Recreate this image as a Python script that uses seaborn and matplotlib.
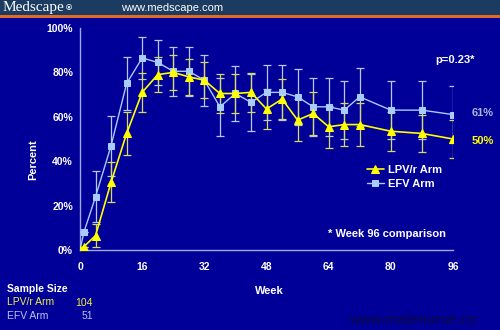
import numpy as np
import pandas as pd
import matplotlib
matplotlib.use("Agg")
import matplotlib.pyplot as plt
import seaborn as sns

weeks = [0, 1, 4, 8, 12, 16, 20, 24, 28, 32, 36, 40, 44, 48, 52, 56, 60, 64, 68, 72, 80, 88, 96]
efv_pct = [0, 8, 24, 47, 75, 86.5, 84.5, 80.5, 80.5, 76.5, 64.5, 70.5, 66.5, 71, 71, 69, 64.5, 64.5, 63, 69, 63, 63, 61]
efv_err = [0, 0, 11.5, 13.5, 12, 9.5, 10, 11, 11, 11.5, 13, 12.5, 13, 12.5, 12.5, 12.5, 13, 13, 13, 13, 13, 13, 13]
lpv_pct = [0, 1.5, 6.5, 30.5, 52.5, 71, 79, 80, 78, 76.5, 70.5, 70.5, 71, 63.5, 68, 58.5, 61.5, 55.5, 56.5, 56.5, 53.5, 52.5, 50]
lpv_err = [0, 0, 5, 9, 9.5, 8.7, 7.8, 7.9, 8, 8.2, 9, 9, 8.7, 9, 9, 9.4, 9.7, 9.5, 9.7, 9.7, 8.7, 8.4, 8.7]
x_ticks = [0, 16, 32, 48, 64, 80, 96]
y_ticks = [0, 20, 40, 60, 80, 100]
series_names = ["LPV/r Arm", "EFV Arm"]
sample_sizes = [104, 51]
final_labels = ["61%", "50%"]

BG = "#000099"
AXC = "#a0a8ee"
YEL = "#ffff00"
LBL = "#a8ccff"

sns.set_style("white")
plt.rcParams["font.family"] = ["Liberation Sans", "DejaVu Sans"]

fig = plt.figure(figsize=(5, 3.3), dpi=100, facecolor=BG)
ax = fig.add_axes([80/500, 1-250/330, 373/500, 222/330])
ax.set_facecolor(BG)

df = pd.DataFrame({"week": weeks * 2,
                   "pct": lpv_pct + efv_pct,
                   "err": lpv_err + efv_err,
                   "arm": [series_names[0]] * len(weeks) + [series_names[1]] * len(weeks)})

# error bars
ax.errorbar(weeks, efv_pct, yerr=efv_err, fmt="none", ecolor="#b4c8f0", elinewidth=0.9,
            capsize=3, capthick=0.9, zorder=2)
ax.errorbar(weeks, lpv_pct, yerr=lpv_err, fmt="none", ecolor="#d8d868", elinewidth=0.9,
            capsize=3, capthick=0.9, zorder=2)

d_l = df[df.arm == series_names[0]]
d_e = df[df.arm == series_names[1]]
sns.lineplot(data=d_e, x="week", y="pct", ax=ax, color=LBL, marker="s", markersize=5,
             markeredgecolor=LBL, linewidth=1.0, label=series_names[1], zorder=3)
sns.lineplot(data=d_l, x="week", y="pct", ax=ax, color=YEL, marker="^", markersize=5.5,
             markeredgecolor=YEL, linewidth=1.2, label=series_names[0], zorder=4)

ax.set_xlim(0, 96)
ax.set_ylim(0, 100)
ax.set_xticks(x_ticks)
ax.set_yticks(y_ticks)
ax.set_xticklabels([str(t) for t in x_ticks])
ax.set_yticklabels([f"{t}%" for t in y_ticks])
for s in ["top", "right"]:
    ax.spines[s].set_visible(False)
for s in ["left", "bottom"]:
    ax.spines[s].set_color(AXC)
    ax.spines[s].set_linewidth(1.0)
    ax.spines[s].set_zorder(1)
ax.tick_params(axis="x", direction="in", length=3, color=AXC, labelcolor="white", labelsize=7.5, pad=9)
ax.tick_params(axis="y", direction="out", length=3, color=AXC, labelcolor="white", labelsize=7.5, pad=2)
for lab in ax.get_xticklabels() + ax.get_yticklabels():
    lab.set_fontweight("bold")
ax.set_xlabel("")
ax.set_ylabel("")

# legend
h, l = ax.get_legend_handles_labels()
order = [l.index(series_names[0]), l.index(series_names[1])]
leg = ax.legend([h[i] for i in order], [l[i] for i in order], loc="upper left",
                bbox_to_anchor=((367-80)/373, (250-165)/222), frameon=False,
                handlelength=1.5, handletextpad=0.4, labelspacing=0.35,
                prop={"weight": "bold", "size": 8}, borderaxespad=0, borderpad=0)
for t in leg.get_texts():
    t.set_color("white")

def ftext(x, y, s, **kw):
    fig.text(x/500, 1-y/330, s, **kw)

# header
fig.patches.append(plt.Rectangle((0, 1-15/330), 1, 15/330, transform=fig.transFigure,
                                 facecolor="#1b3b60", edgecolor="none", zorder=0))
fig.patches.append(plt.Rectangle((0, 1-17.5/330), 1, 2.5/330, transform=fig.transFigure,
                                 facecolor="#e06a28", edgecolor="none", zorder=0))
ftext(3, 8, "Medscape", color="white", fontsize=11, family="Liberation Serif", va="center")
ftext(66, 9, "®", color="white", fontsize=6, va="center", fontweight="bold")
ftext(121, 8, "www.medscape.com", color="white", fontsize=8, va="center")

ftext(33, 160, "Percent", color="white", fontsize=8, fontweight="bold", rotation=90,
      ha="center", va="center")
ftext(269, 291, "Week", color="white", fontsize=8, fontweight="bold", ha="center", va="center")
ftext(475, 60, "p=0.23*", color="white", fontsize=8, fontweight="bold", ha="right", va="center")
ftext(472, 113, final_labels[0], color="#a8b8dd", fontsize=8, fontweight="bold", va="center")
ftext(472, 141, final_labels[1], color=YEL, fontsize=8, fontweight="bold", va="center")
ftext(446, 234, "* Week 96 comparison", color="white", fontsize=8, fontweight="bold",
      ha="right", va="center")

ftext(7, 289, "Sample Size", color="white", fontsize=7.5, fontweight="bold", va="center")
ftext(7, 302, series_names[0], color="#f0f040", fontsize=7.5, va="center")
ftext(93, 303, str(sample_sizes[0]), color="#f0f040", fontsize=7.5, ha="right", va="center")
ftext(7, 316, series_names[1], color="#b8c4ee", fontsize=7.5, va="center")
ftext(93, 316, str(sample_sizes[1]), color="#b8c4ee", fontsize=7.5, ha="right", va="center")
ftext(477, 320, "www.malenurse.cn", color="#0a0a40", fontsize=11, ha="right", va="center")

fig.savefig("out.png", dpi=100, facecolor=BG)
